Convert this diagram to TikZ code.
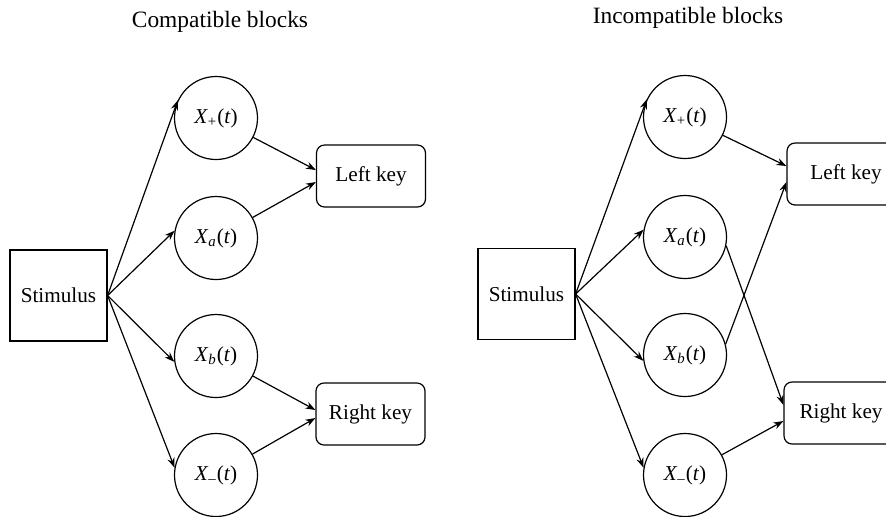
\documentclass[tikz,border=0pt]{standalone}
\usepackage{fontspec}
\setmainfont{Liberation Serif}
\usetikzlibrary{arrows.meta}

\tikzset{
  stimbox/.style={draw, line width=0.6pt, minimum width=48.5pt, minimum height=45.5pt, inner sep=0pt},
  unit/.style={draw, circle, line width=0.6pt, minimum size=41.5pt, inner sep=0pt},
  keybox/.style={draw, line width=0.6pt, rounded corners=4pt, minimum width=54.5pt, minimum height=31pt, inner sep=0pt},
  title/.style={anchor=base, font=\fontsize{11.7}{14}\selectfont}
}
\newcommand{\unitlabel}[1]{\textit{X}\textsubscript{#1}(\textit{t})}

\begin{document}
\begin{tikzpicture}[x=0.5pt, y=-0.5pt, font=\fontsize{10.6}{13}\selectfont, >={Stealth[length=5pt, width=3.6pt]}, line width=0.6pt]
  \useasboundingbox (0,0) rectangle (886,516);
  \clip (0,0) rectangle (886,516);
  \fill[white] (0,0) rectangle (886,516);

  % compatible blocks
  \node[title] (t0) at (220,27) {Compatible blocks};
  \node[stimbox] (s0) at (58.5,295.5) {Stimulus};
  \node[unit] (p0) at (216,118) {\unitlabel{+}};
  \node[unit] (a0) at (216,238) {\unitlabel{\textit{a}}};
  \node[unit] (b0) at (216,356) {\unitlabel{\textit{b}}};
  \node[unit] (m0) at (216,475) {\unitlabel{\textendash}};
  \node[keybox] (l0) at (371,176) {Left key};
  \node[keybox] (r0) at (370.5,414) {Right key};
  \draw[->] (s0.east) -- (p0.155);
  \draw[->] (s0.east) -- (a0.170);
  \draw[->] (s0.east) -- (b0.188);
  \draw[->] (s0.east) -- (m0.170);
  \draw[->] (p0) -- ([yshift=3pt]l0.west);
  \draw[->] (a0) -- ([yshift=-3pt]l0.west);
  \draw[->] (b0) -- ([yshift=2pt]r0.west);
  \draw[->] (m0) -- ([yshift=-2pt]r0.west);

  % incompatible blocks
  \node[title] (t1) at (688,23) {Incompatible blocks};
  \node[stimbox] (s1) at (526.5,294) {Stimulus};
  \node[unit] (p1) at (685,117) {\unitlabel{+}};
  \node[unit] (a1) at (685,237) {\unitlabel{\textit{a}}};
  \node[unit] (b1) at (685,355) {\unitlabel{\textit{b}}};
  \node[unit] (m1) at (685,475) {\unitlabel{\textendash}};
  \node[keybox, minimum width=59pt] (l1) at (846,174) {Left key};
  \node[keybox, minimum width=57pt] (r1) at (841,413) {Right key};
  \draw[->] (s1.east) -- (p1.155);
  \draw[->] (s1.east) -- (a1.170);
  \draw[->] (s1.east) -- (b1.188);
  \draw[->] (s1.east) -- (m1.170);
  \draw[->] (p1) -- ([yshift=4pt]l1.west);
  \draw[->] (b1.15) -- ([yshift=-4pt]l1.west);
  \draw[->] (a1.-12) -- ([yshift=4pt]r1.west);
  \draw[->] (m1) -- ([yshift=-4pt]r1.west);
\end{tikzpicture}
\end{document}
